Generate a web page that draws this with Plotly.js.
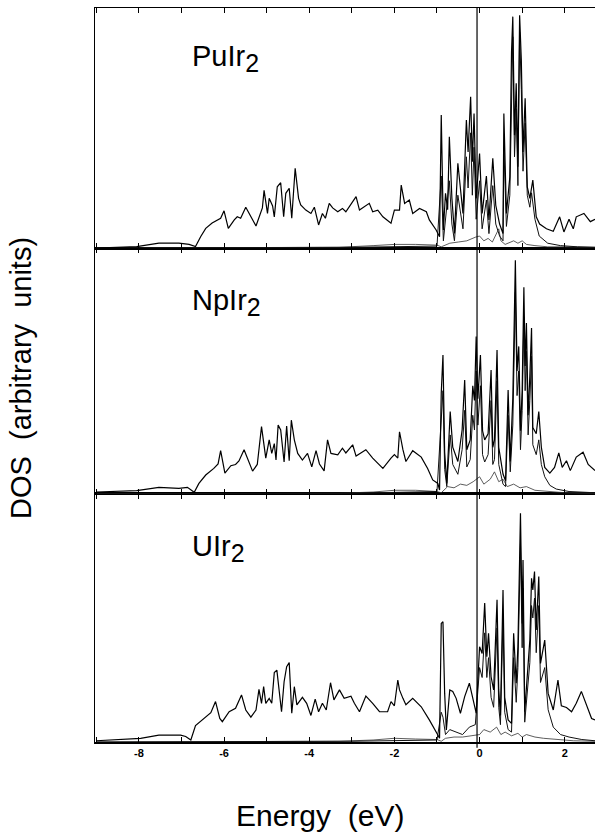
<!DOCTYPE html>
<html>
<head>
<meta charset="utf-8">
<script src="https://cdn.plot.ly/plotly-3.0.1.min.js"></script>
<style>html,body{margin:0;padding:0;background:#fff;}#plot{width:595px;height:833px;}</style>
</head>
<body>
<div id="plot"></div>
<script>
// Panel labels
const panelLabels = ["PuIr<sub><span style='font-size:25px'>2</span></sub>", "NpIr<sub><span style='font-size:25px'>2</span></sub>", "UIr<sub><span style='font-size:25px'>2</span></sub>"];
const tickValues = [-8,-6,-4,-2,0,2];
const tickLabels = ["-8","-6","-4","-2","0","2"];

// PuIr2 (top panel) : [energy eV, DOS arb.]
const puTotal = [[-9.0,0],[-8.05,0.6],[-7.53,2],[-7.06,2],[-6.82,1.5],[-6.67,0.6],[-6.55,4.7],[-6.43,8.2],[-6.28,10.4],[-6.08,12.4],[-6.0,15.5],[-5.9,8.2],[-5.76,11.7],[-5.69,13],[-5.61,12.4],[-5.49,17],[-5.25,9.2],[-5.1,16.7],[-5.06,24],[-4.98,14.4],[-4.94,20.7],[-4.86,17.5],[-4.82,13],[-4.75,25.5],[-4.67,27.2],[-4.6,13],[-4.55,22.8],[-4.47,24.9],[-4.41,12.4],[-4.33,33.2],[-4.25,20.7],[-4.2,17.9],[-4.08,15.8],[-3.96,14.4],[-3.88,17],[-3.78,9.6],[-3.69,14.4],[-3.62,12.4],[-3.53,18.6],[-3.45,16.7],[-3.33,15.1],[-3.22,16.5],[-3.14,15.1],[-2.9,21.4],[-2.82,15.8],[-2.59,18.6],[-2.51,15.1],[-2.39,15.8],[-2.27,13],[-2.08,10.3],[-2.0,15.8],[-1.88,15.8],[-1.84,26.2],[-1.76,18.6],[-1.65,20],[-1.57,14.4],[-1.41,16.5],[-1.25,15.1],[-1.18,11.7],[-1.02,7.5],[-0.94,4.7],[-0.9,55.4],[-0.85,7.5],[-0.8,22.8],[-0.75,16],[-0.71,46.4],[-0.65,20.7],[-0.59,6.1],[-0.51,35.3],[-0.45,26],[-0.39,14.4],[-0.31,53.3],[-0.27,40],[-0.21,63],[-0.17,36],[-0.13,56],[-0.08,20.7],[0.0,39.4],[0.06,14.4],[0.16,30],[0.22,11.7],[0.31,37.4],[0.38,17.8],[0.47,10],[0.55,6],[0.57,56],[0.63,14.4],[0.71,29.6],[0.75,81.8],[0.78,96.4],[0.82,47],[0.86,68.6],[0.9,33.9],[0.94,97],[0.98,78.3],[1.02,40],[1.07,62.4],[1.12,25.5],[1.18,20.7],[1.25,28.3],[1.33,13],[1.41,10],[1.57,8],[1.73,7],[1.88,13],[1.98,6.7],[2.1,12],[2.2,8],[2.27,13],[2.45,14.4],[2.6,11],[2.71,12]];
const puF = [[-9,0],[-3,0.3],[-1.0,0.8],[-0.9,30],[-0.85,3],[-0.8,12],[-0.71,28],[-0.65,10],[-0.59,3],[-0.51,22],[-0.45,14],[-0.39,8],[-0.31,38],[-0.27,25],[-0.21,48],[-0.17,22],[-0.13,42],[-0.08,12],[0.0,28],[0.06,8],[0.16,20],[0.22,6],[0.31,26],[0.38,10],[0.47,5],[0.55,3],[0.57,42],[0.63,9],[0.71,22],[0.75,70],[0.78,88],[0.82,38],[0.86,58],[0.9,26],[0.94,90],[0.98,66],[1.02,32],[1.07,52],[1.12,22],[1.18,17],[1.22,23],[1.3,12],[1.4,5],[1.6,2],[1.9,1],[2.3,0.5],[2.71,0.3]];
const puSmall = [[-9,0],[-3.3,0.3],[-2.5,1],[-2.0,1.5],[-1.5,1.5],[-1.0,1.2],[-0.9,0.5],[-0.7,2],[-0.5,2.5],[-0.3,3],[-0.1,4.5],[0.0,5],[0.1,3],[0.2,4],[0.3,2.5],[0.45,8],[0.5,3],[0.6,1.5],[0.8,3],[0.9,2],[1.0,3],[1.1,1.5],[1.3,1],[1.6,0.5],[2.0,0.5],[2.71,0.3]];

// NpIr2 (middle panel)
const npTotal = [[-9.0,0.8],[-8.05,1.4],[-7.53,2.7],[-7.06,2.3],[-6.86,2.7],[-6.7,0.7],[-6.59,4.3],[-6.43,7.7],[-6.24,10.4],[-6.14,12.2],[-6.08,17.6],[-5.98,8.5],[-5.84,11.5],[-5.73,12],[-5.65,13.4],[-5.53,18],[-5.33,9.3],[-5.22,12],[-5.12,27.4],[-5.02,14.6],[-4.94,22],[-4.88,16.5],[-4.82,20.5],[-4.78,13.8],[-4.73,28],[-4.67,26],[-4.59,13],[-4.53,27.6],[-4.47,13.5],[-4.42,30],[-4.35,22],[-4.27,16.5],[-4.16,13.8],[-4.04,16.5],[-3.94,11],[-3.84,17.6],[-3.76,12.2],[-3.65,9.4],[-3.57,22],[-3.49,16.5],[-3.33,15.9],[-3.22,18.6],[-3.14,16.7],[-2.98,20],[-2.9,15.4],[-2.67,18],[-2.51,14.6],[-2.27,10.4],[-2.08,14.6],[-2.0,16],[-1.92,14.6],[-1.88,25.3],[-1.8,18],[-1.73,13.2],[-1.57,17.6],[-1.37,15],[-1.22,10.4],[-1.1,5.7],[-0.98,4.3],[-0.94,1.6],[-0.9,41],[-0.86,56.5],[-0.82,17],[-0.77,4.3],[-0.69,33.5],[-0.63,19],[-0.51,13.2],[-0.41,26],[-0.35,46.3],[-0.3,18],[-0.22,22],[-0.16,44],[-0.12,38],[-0.08,64],[-0.04,38.7],[0.02,56.5],[0.07,25.7],[0.12,22],[0.2,24.5],[0.27,50.4],[0.31,19],[0.35,22],[0.41,58.5],[0.45,19],[0.55,8.1],[0.61,5.4],[0.67,42.3],[0.72,13.2],[0.78,38.7],[0.84,95],[0.88,50],[0.92,60],[0.96,25.7],[1.0,42.3],[1.04,84],[1.07,52],[1.1,69.5],[1.14,32],[1.18,48],[1.22,67.5],[1.25,27],[1.33,24.5],[1.39,33.5],[1.45,19],[1.53,10.8],[1.65,8.5],[1.76,10.8],[1.86,16.7],[1.94,10.8],[2.04,13.5],[2.13,9.5],[2.27,15],[2.43,17],[2.55,12],[2.71,9.5]];
const npF = [[-9,0],[-3,0.3],[-1.0,1],[-0.9,28],[-0.86,42],[-0.82,10],[-0.77,3],[-0.69,24],[-0.63,12],[-0.51,8],[-0.41,18],[-0.35,34],[-0.3,11],[-0.22,14],[-0.16,32],[-0.12,26],[-0.08,50],[-0.04,28],[0.02,44],[0.07,16],[0.12,13],[0.2,16],[0.27,38],[0.31,12],[0.35,14],[0.41,46],[0.45,12],[0.55,4],[0.61,3],[0.67,32],[0.72,9],[0.78,28],[0.84,82],[0.88,40],[0.92,50],[0.96,18],[1.0,34],[1.04,72],[1.07,42],[1.1,58],[1.14,24],[1.18,38],[1.22,56],[1.25,20],[1.33,16],[1.39,22],[1.45,12],[1.53,7],[1.65,3.5],[1.8,2],[2.1,1],[2.71,0.5]];
const npSmall = [[-9,0],[-3.3,0.3],[-2.5,0.8],[-2,1.5],[-1.5,1.5],[-1,1],[-0.9,0.5],[-0.75,3],[-0.6,2.5],[-0.45,4],[-0.3,3.5],[-0.15,5],[0,7],[0.1,4],[0.25,6],[0.35,9],[0.45,5],[0.55,6],[0.65,3],[0.8,4],[0.95,2.5],[1.1,3],[1.3,1.5],[1.6,1],[2,0.5],[2.71,0.3]];

// UIr2 (bottom panel)
const uTotal = [[-9.0,0.5],[-7.96,1.5],[-7.53,2.8],[-7.02,2.8],[-6.9,2.2],[-6.78,0.8],[-6.67,6.6],[-6.51,8.9],[-6.31,11.8],[-6.2,16.3],[-6.1,9.5],[-6.04,8.2],[-5.88,12.2],[-5.73,13.6],[-5.59,19],[-5.49,12.9],[-5.37,10],[-5.25,12.9],[-5.18,21.2],[-5.12,15.6],[-5.07,22.3],[-5.02,15.6],[-4.94,17.6],[-4.88,15.6],[-4.82,28],[-4.76,29],[-4.71,21.6],[-4.65,12.2],[-4.59,24.3],[-4.53,30.4],[-4.47,32],[-4.41,11.6],[-4.35,22.3],[-4.29,15],[-4.16,18],[-4.06,15.6],[-3.96,10.7],[-3.86,17.3],[-3.78,12.2],[-3.69,15.6],[-3.6,12.9],[-3.5,23.9],[-3.42,17],[-3.29,21],[-3.18,17.6],[-3.02,18.5],[-2.94,15.6],[-2.82,12.2],[-2.67,18.5],[-2.51,15.6],[-2.35,12.2],[-2.16,12.2],[-2.08,16.3],[-2.0,14.6],[-1.92,25],[-1.88,21],[-1.8,17.6],[-1.73,15],[-1.57,17.6],[-1.37,14.2],[-1.18,8.9],[-1.06,5.5],[-0.98,2.8],[-0.94,1.5],[-0.9,47.8],[-0.86,48.5],[-0.82,19.6],[-0.78,4.9],[-0.7,21],[-0.63,20.4],[-0.55,17.6],[-0.45,11.6],[-0.35,18.3],[-0.24,23.7],[-0.16,17.6],[-0.08,11.6],[0.0,38.4],[0.06,35.7],[0.12,56],[0.17,34.4],[0.21,43.8],[0.27,26.3],[0.33,21],[0.41,57.3],[0.45,21],[0.49,10.7],[0.55,61.3],[0.59,18],[0.67,8.9],[0.75,7.5],[0.8,43.8],[0.86,23.7],[0.9,38.4],[0.96,92.2],[1.0,47.8],[1.02,73.4],[1.06,12.2],[1.12,26.3],[1.18,41.1],[1.22,66],[1.25,61.3],[1.29,68.7],[1.33,45.2],[1.39,66.7],[1.43,31.7],[1.53,41.1],[1.61,19.6],[1.73,12.9],[1.84,25],[1.92,14.6],[2.04,13.9],[2.16,12.2],[2.27,15.6],[2.39,20.4],[2.51,14.6],[2.63,9.5],[2.71,8.9]];
const uF = [[-9,0],[-3,0.3],[-1,0.8],[-0.9,12],[-0.86,10],[-0.8,3],[-0.7,5],[-0.55,4],[-0.4,3],[-0.24,6],[-0.1,7],[0.0,30],[0.06,26],[0.12,44],[0.17,26],[0.21,34],[0.27,18],[0.33,14],[0.41,46],[0.45,14],[0.49,7],[0.55,50],[0.59,12],[0.67,5],[0.75,4],[0.8,34],[0.86,16],[0.9,30],[0.96,80],[1.0,38],[1.02,62],[1.06,8],[1.12,20],[1.18,32],[1.22,55],[1.25,50],[1.29,58],[1.33,36],[1.39,55],[1.43,24],[1.53,30],[1.61,13],[1.73,6],[1.9,3],[2.1,2],[2.4,1],[2.71,0.5]];
const uSmall = [[-9,0],[-3.3,0.3],[-2.5,0.8],[-2,1.5],[-1.5,1.2],[-1,1],[-0.9,0.3],[-0.8,1.5],[-0.6,2],[-0.4,2],[-0.2,2.5],[0,3],[0.1,5],[0.25,4],[0.4,6],[0.5,3],[0.6,4],[0.75,2.5],[0.9,3.5],[1.0,2],[1.1,3],[1.3,2],[1.5,1.5],[1.8,1],[2.2,0.5],[2.71,0.3]];

function tr(pairs, xa, ya, width, color) {
  return {x: pairs.map(p => p[0]), y: pairs.map(p => p[1]), xaxis: xa, yaxis: ya,
    type: 'scatter', mode: 'lines', line: {color: color, width: width}, showlegend: false, hoverinfo: 'skip'};
}

const data = [
  tr(puSmall,'x3','y3',0.8,'#333'), tr(puF,'x3','y3',1.0,'#111'), tr(puTotal,'x3','y3',1.2,'#000'),
  tr(npSmall,'x2','y2',0.8,'#333'), tr(npF,'x2','y2',1.0,'#111'), tr(npTotal,'x2','y2',1.2,'#000'),
  tr(uSmall,'x','y',0.8,'#333'), tr(uF,'x','y',1.0,'#111'), tr(uTotal,'x','y',1.2,'#000')
];

const FONT = 'Liberation Sans, Arial, Helvetica, sans-serif';
const minorTicks = {ticks: 'inside', tickmode: 'linear', tick0: 0, dtick: 1, ticklen: 5, tickwidth: 1, tickcolor: '#000', showgrid: false};
function xax(anchor, labels) {
  const a = {range: [-9.03, 2.71], ticks: 'inside', ticklen: 5, tickwidth: 1, tickcolor: '#000',
    showline: true, linecolor: '#000', linewidth: 1.5, minor: minorTicks,
    mirror: 'ticks', showgrid: false, zeroline: false, anchor: anchor, showticklabels: labels};
  if (labels) {
    a.tickmode = 'array'; a.tickvals = tickValues; a.ticktext = tickLabels;
    a.tickfont = {family: FONT, size: 11, color: '#000', weight: 'bold'};
  } else {
    a.tickmode = 'linear'; a.tick0 = 0; a.dtick = 2; a.matches = 'x';
  }
  return a;
}
function yax(domain) {
  return {domain: domain, range: [0, 100], showline: true, linecolor: '#000', linewidth: 1.5,
    ticks: '', showticklabels: false, showgrid: false, zeroline: false, fixedrange: true};
}

const layout = {
  width: 595, height: 833, margin: {l: 95, r: 0, t: 8, b: 91},
  paper_bgcolor: '#fff', plot_bgcolor: '#fff',
  font: {family: FONT, color: '#000'},
  xaxis: xax('y', true), xaxis2: xax('y2', false), xaxis3: xax('y3', false),
  yaxis: yax([0, 0.3379]), yaxis2: yax([0.3379, 0.673]), yaxis3: yax([0.673, 1]),
  shapes: [{type: 'line', xref: 'x', yref: 'paper', x0: -0.06, x1: -0.06, y0: -0.008, y1: 1, line: {color: '#000', width: 1.2}}],
  annotations: [
    {text: panelLabels[0], xref: 'x3', yref: 'y3', x: -6.8, y: 79, xanchor: 'left', yanchor: 'middle', showarrow: false, font: {size: 29, color: '#000', family: FONT}},
    {text: panelLabels[1], xref: 'x2', yref: 'y2', x: -6.8, y: 78, xanchor: 'left', yanchor: 'middle', showarrow: false, font: {size: 29, color: '#000', family: FONT}},
    {text: panelLabels[2], xref: 'x', yref: 'y', x: -6.8, y: 78, xanchor: 'left', yanchor: 'middle', showarrow: false, font: {size: 29, color: '#000', family: FONT}},
    {text: 'DOS\u00a0\u00a0(arbitrary\u00a0\u00a0units)', xref: 'paper', yref: 'paper', x: -0.148, y: 0.496, xanchor: 'center', yanchor: 'middle', textangle: -90, showarrow: false, font: {size: 29, color: '#000', family: FONT}},
    {text: 'Energy\u00a0\u00a0(eV)', xref: 'paper', yref: 'paper', x: 0.45, y: -0.0995, xanchor: 'center', yanchor: 'middle', showarrow: false, font: {size: 30, color: '#000', family: FONT}}
  ]
};

Plotly.newPlot('plot', data, layout, {displayModeBar: false, staticPlot: true});
</script>
</body>
</html>
